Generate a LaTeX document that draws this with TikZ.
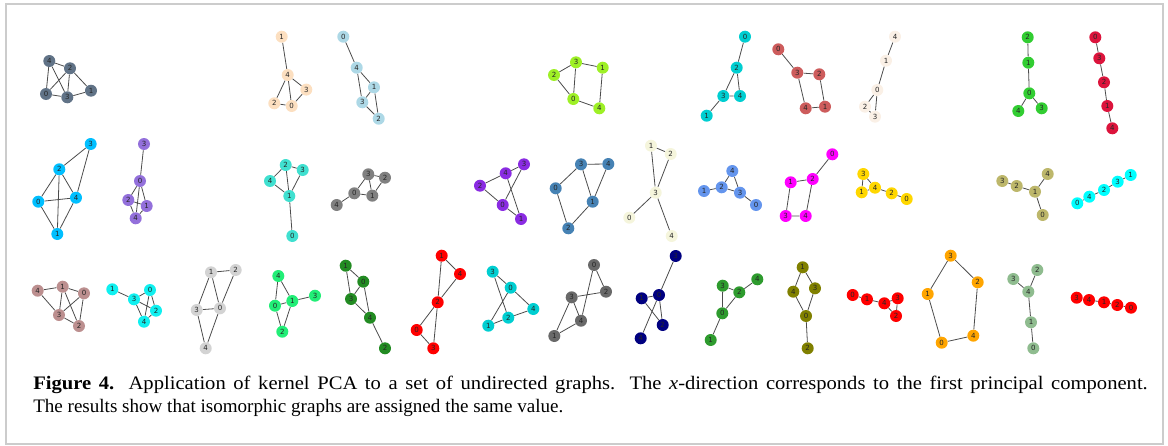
\documentclass[tikz,border=0pt]{standalone}
\usepackage{fontspec}
\setmainfont{Liberation Serif}
\newfontfamily\lbl{DejaVu Sans}
\definecolor{cA}{HTML}{617387}
\definecolor{cB}{HTML}{FCDFC0}
\definecolor{cC}{HTML}{ADD8E6}
\definecolor{cD}{HTML}{9EF026}
\definecolor{cE}{HTML}{00CED1}
\definecolor{cF}{HTML}{CD5C5C}
\definecolor{cG}{HTML}{FAF0E6}
\definecolor{cH}{HTML}{32CD32}
\definecolor{cI}{HTML}{DC143C}
\definecolor{cJ}{HTML}{00BFFF}
\definecolor{cK}{HTML}{9370DB}
\definecolor{cL}{HTML}{40E0D0}
\definecolor{cM}{HTML}{808080}
\definecolor{cN}{HTML}{8A2BE2}
\definecolor{cO}{HTML}{4682B4}
\definecolor{cP}{HTML}{F5F5DC}
\definecolor{cQ}{HTML}{6495ED}
\definecolor{cR}{HTML}{FF00FF}
\definecolor{cS}{HTML}{FFD700}
\definecolor{cT}{HTML}{BDB76B}
\definecolor{cU}{HTML}{00FFFF}
\definecolor{cV}{HTML}{BC8F8F}
\definecolor{cW}{HTML}{10F0F0}
\definecolor{cX}{HTML}{D3D3D3}
\definecolor{cY}{HTML}{22EE77}
\definecolor{cZ}{HTML}{228B22}
\definecolor{cAA}{HTML}{FF0000}
\definecolor{cAB}{HTML}{00CED1}
\definecolor{cAC}{HTML}{696969}
\definecolor{cAD}{HTML}{000080}
\definecolor{cAE}{HTML}{2E9B2E}
\definecolor{cAF}{HTML}{808000}
\definecolor{cAH}{HTML}{FFA500}
\definecolor{cAI}{HTML}{8FBC8F}
\definecolor{framecol}{HTML}{CCCCCC}
\tikzset{
  v/.style={circle, inner sep=0pt, minimum size=9pt, font=\lbl\fontsize{5.3}{5.3}\selectfont, text=black!85},
  e/.style={draw=black!70, line width=0.6pt},
  captext/.style={anchor=base west, inner sep=0pt, font=\fontsize{14.3}{17}\selectfont}
}
\begin{document}
\begin{tikzpicture}[x=0.75pt,y=-0.75pt]
\useasboundingbox (0,0) rectangle (1168,446);
\draw[framecol, line width=1.2pt] (6,4) rectangle (1163,444);
% ---------- Row 1 ----------
% A
\node[v,fill=cA] (a4) at (49.3,61) {4};
\node[v,fill=cA] (a2) at (70,68.3) {2};
\node[v,fill=cA] (a0) at (46,94) {0};
\node[v,fill=cA] (a3) at (67.3,97.3) {3};
\node[v,fill=cA] (a1) at (91,90.7) {1};
\draw[e] (a4)--(a2) (a4)--(a0) (a4)--(a3) (a2)--(a0) (a2)--(a3) (a2)--(a1) (a0)--(a3) (a3)--(a1);
% B
\node[v,fill=cB] (b1) at (281.7,36.7) {1};
\node[v,fill=cB] (b4) at (287.7,75) {4};
\node[v,fill=cB] (b3) at (306.3,89.6) {3};
\node[v,fill=cB] (b2) at (274.3,103.3) {2};
\node[v,fill=cB] (b0) at (291.7,106) {0};
\draw[e] (b1)--(b4) (b4)--(b2) (b4)--(b0) (b4)--(b3) (b3)--(b0) (b2)--(b0);
% C
\node[v,fill=cC] (c0) at (343.3,36.7) {0};
\node[v,fill=cC] (c4) at (356.7,67.7) {4};
\node[v,fill=cC] (c1) at (374,87.3) {1};
\node[v,fill=cC] (c3) at (362.3,102.3) {3};
\node[v,fill=cC] (c2) at (378.7,118.7) {2};
\draw[e] (c0)--(c4) (c4)--(c1) (c4)--(c3) (c1)--(c3) (c1)--(c2) (c3)--(c2);
% D
\node[v,fill=cD] (d3) at (576,62.3) {3};
\node[v,fill=cD] (d2) at (554,75) {2};
\node[v,fill=cD] (d0) at (573.3,99) {0};
\node[v,fill=cD] (d1) at (602.7,67.7) {1};
\node[v,fill=cD] (d4) at (599.3,108.3) {4};
\draw[e] (d3)--(d2) (d3)--(d0) (d2)--(d0) (d3)--(d1) (d1)--(d4) (d0)--(d4);
% E
\node[v,fill=cE] (e0) at (745,36.7) {0};
\node[v,fill=cE] (e2) at (736.7,67.7) {2};
\node[v,fill=cE] (e3) at (723.3,96) {3};
\node[v,fill=cE] (e4) at (740,96) {4};
\node[v,fill=cE] (e1) at (706.7,115.7) {1};
\draw[e] (e0)--(e2) (e2)--(e3) (e2)--(e4) (e3)--(e4) (e3)--(e1);
% F
\node[v,fill=cF] (f0) at (778.3,49.3) {0};
\node[v,fill=cF] (f3) at (797.3,72.7) {3};
\node[v,fill=cF] (f2) at (819.3,74.3) {2};
\node[v,fill=cF] (f4) at (805.7,108.3) {4};
\node[v,fill=cF] (f1) at (825,106.7) {1};
\draw[e] (f0)--(f3) (f3)--(f2) (f3)--(f4) (f2)--(f1) (f4)--(f1);
% G
\node[v,fill=cG] (g4) at (895,36.7) {4};
\node[v,fill=cG] (g1) at (886,60.7) {1};
\node[v,fill=cG] (g0) at (877.3,90) {0};
\node[v,fill=cG] (g2) at (865,106.7) {2};
\node[v,fill=cG] (g3) at (875,116.7) {3};
\draw[e] (g4)--(g1) (g1)--(g0) (g0)--(g2) (g0)--(g3) (g2)--(g3);
% H
\node[v,fill=cH] (h2) at (1027.7,37.3) {2};
\node[v,fill=cH] (h1) at (1028.3,62.7) {1};
\node[v,fill=cH] (h0) at (1029.3,93.3) {0};
\node[v,fill=cH] (h4) at (1018.3,111) {4};
\node[v,fill=cH] (h3) at (1041.7,108.3) {3};
\draw[e] (h2)--(h1) (h1)--(h0) (h0)--(h4) (h0)--(h3);
% I
\node[v,fill=cI] (i0) at (1095.3,37.3) {0};
\node[v,fill=cI] (i3) at (1099.3,58.3) {3};
\node[v,fill=cI] (i2) at (1104,82.3) {2};
\node[v,fill=cI] (i1) at (1107.3,106) {1};
\node[v,fill=cI] (i4) at (1112.3,128.3) {4};
\draw[e] (i0)--(i3) (i3)--(i2) (i2)--(i1) (i1)--(i4);
% ---------- Row 2 ----------
% J
\node[v,fill=cJ] (j3) at (90.7,144) {3};
\node[v,fill=cJ] (j2) at (59.3,169.3) {2};
\node[v,fill=cJ] (j0) at (38.3,201.7) {0};
\node[v,fill=cJ] (j4) at (76,197.7) {4};
\node[v,fill=cJ] (j1) at (57.3,234) {1};
\draw[e] (j3)--(j2) (j3)--(j4) (j2)--(j0) (j2)--(j4) (j2)--(j1) (j0)--(j4) (j0)--(j1) (j4)--(j1);
% K
\node[v,fill=cK] (k3) at (144,144) {3};
\node[v,fill=cK] (k0) at (140,181) {0};
\node[v,fill=cK] (k2) at (128.3,200) {2};
\node[v,fill=cK] (k1) at (146.7,206) {1};
\node[v,fill=cK] (k4) at (135.7,218.3) {4};
\draw[e] (k3)--(k0) (k0)--(k2) (k0)--(k1) (k0)--(k4) (k2)--(k1) (k2)--(k4) (k1)--(k4);
% L
\node[v,fill=cL] (l2) at (285.7,165) {2};
\node[v,fill=cL] (l3) at (302.7,170) {3};
\node[v,fill=cL] (l4) at (270,181) {4};
\node[v,fill=cL] (l1) at (289.3,196) {1};
\node[v,fill=cL] (l0) at (292.3,236) {0};
\draw[e] (l2)--(l3) (l2)--(l4) (l2)--(l1) (l3)--(l1) (l4)--(l1) (l1)--(l0);
% M
\node[v,fill=cM] (m3) at (368.3,174.3) {3};
\node[v,fill=cM] (m2) at (385,177.7) {2};
\node[v,fill=cM] (m0) at (354.3,193.3) {0};
\node[v,fill=cM] (m1) at (372.3,195.7) {1};
\node[v,fill=cM] (m4) at (336.7,205) {4};
\draw[e] (m3)--(m2) (m3)--(m0) (m3)--(m1) (m2)--(m1) (m0)--(m1) (m0)--(m4);
% N
\node[v,fill=cN] (n4) at (505.7,173.3) {4};
\node[v,fill=cN] (n3) at (524,164.3) {3};
\node[v,fill=cN] (n2) at (480,185.7) {2};
\node[v,fill=cN] (n0) at (502.7,205) {0};
\node[v,fill=cN] (n1) at (521,219) {1};
\draw[e] (n4)--(n3) (n4)--(n2) (n4)--(n1) (n3)--(n0) (n2)--(n0) (n0)--(n1);
% O
\node[v,fill=cO] (o3) at (581,164.3) {3};
\node[v,fill=cO] (o0) at (555.7,188.3) {0};
\node[v,fill=cO] (o2) at (568.3,228.3) {2};
\node[v,fill=cO] (o4) at (608.3,164) {4};
\node[v,fill=cO] (o1) at (592.7,201.7) {1};
\draw[e] (o3)--(o0) (o0)--(o2) (o2)--(o1) (o3)--(o4) (o3)--(o1) (o4)--(o1);
% P
\node[v,fill=cP] (p1) at (651,145.7) {1};
\node[v,fill=cP] (p2) at (670.7,154) {2};
\node[v,fill=cP] (p3) at (655.7,192.7) {3};
\node[v,fill=cP] (p0) at (629.3,217.7) {0};
\node[v,fill=cP] (p4) at (671.7,236) {4};
\draw[e] (p1)--(p2) (p1)--(p3) (p2)--(p3) (p3)--(p0) (p3)--(p4);
% Q
\node[v,fill=cQ] (q4) at (732.3,171) {4};
\node[v,fill=cQ] (q1) at (704,191) {1};
\node[v,fill=cQ] (q2) at (721.7,187.3) {2};
\node[v,fill=cQ] (q3) at (740,192.7) {3};
\node[v,fill=cQ] (q0) at (756,205) {0};
\draw[e] (q4)--(q2) (q4)--(q3) (q1)--(q2) (q2)--(q3) (q3)--(q0);
% R
\node[v,fill=cR] (r0) at (832.3,154.3) {0};
\node[v,fill=cR] (r2) at (812.7,179) {2};
\node[v,fill=cR] (r1) at (790.7,182.3) {1};
\node[v,fill=cR] (r3) at (785.7,216) {3};
\node[v,fill=cR] (r4) at (805.7,216) {4};
\draw[e] (r0)--(r2) (r2)--(r1) (r2)--(r4) (r1)--(r3) (r3)--(r4);
% S
\node[v,fill=cS] (s3) at (863.3,174) {3};
\node[v,fill=cS] (s1) at (861.7,192.3) {1};
\node[v,fill=cS] (s4) at (875,187.7) {4};
\node[v,fill=cS] (s2) at (891.7,193.3) {2};
\node[v,fill=cS] (s0) at (906.7,199) {0};
\draw[e] (s3)--(s1) (s3)--(s4) (s1)--(s4) (s4)--(s2) (s2)--(s0);
% T
\node[v,fill=cT] (t3) at (1002.3,181) {3};
\node[v,fill=cT] (t2) at (1016.7,186) {2};
\node[v,fill=cT] (t1) at (1035,191.7) {1};
\node[v,fill=cT] (t4) at (1047.7,174) {4};
\node[v,fill=cT] (t0) at (1042.7,215) {0};
\draw[e] (t3)--(t2) (t2)--(t1) (t1)--(t4) (t1)--(t0);
% U
\node[v,fill=cU] (u1) at (1130.7,175) {1};
\node[v,fill=cU] (u3) at (1117.7,181.7) {3};
\node[v,fill=cU] (u2) at (1104,190) {2};
\node[v,fill=cU] (u4) at (1089.3,196.7) {4};
\node[v,fill=cU] (u0) at (1077.3,203.3) {0};
\draw[e] (u1)--(u3) (u3)--(u2) (u2)--(u4) (u4)--(u0);
% ---------- Row 3 ----------
% V
\node[v,fill=cV] (w4) at (37.7,290.7) {4};
\node[v,fill=cV] (w1) at (62.7,286.7) {1};
\node[v,fill=cV] (w0) at (84,293.3) {0};
\node[v,fill=cV] (w3) at (59,315) {3};
\node[v,fill=cV] (w2) at (79,326) {2};
\draw[e] (w4)--(w1) (w4)--(w3) (w1)--(w0) (w1)--(w3) (w1)--(w2) (w0)--(w3) (w0)--(w2) (w3)--(w2);
% W
\node[v,fill=cW] (x1) at (112.3,289.3) {1};
\node[v,fill=cW] (x3) at (134,299.3) {3};
\node[v,fill=cW] (x0) at (150,290) {0};
\node[v,fill=cW] (x2) at (156,310.7) {2};
\node[v,fill=cW] (x4) at (144,321.7) {4};
\draw[e] (x1)--(x3) (x3)--(x0) (x3)--(x2) (x3)--(x4) (x0)--(x2) (x0)--(x4) (x2)--(x4);
% X
\node[v,fill=cX] (y1) at (211,272.3) {1};
\node[v,fill=cX] (y2) at (235.7,270) {2};
\node[v,fill=cX] (y3) at (196.7,310) {3};
\node[v,fill=cX] (y0) at (220,308.3) {0};
\node[v,fill=cX] (y4) at (205.7,348.3) {4};
\draw[e] (y1)--(y2) (y1)--(y3) (y1)--(y0) (y2)--(y0) (y3)--(y0) (y3)--(y4) (y0)--(y4);
% Y
\node[v,fill=cY] (z4) at (278.3,276) {4};
\node[v,fill=cY] (z0) at (275,305.7) {0};
\node[v,fill=cY] (z1) at (292.3,301) {1};
\node[v,fill=cY] (z2) at (282.3,331.7) {2};
\node[v,fill=cY] (z3) at (315,295.7) {3};
\draw[e] (z4)--(z0) (z4)--(z1) (z0)--(z1) (z0)--(z2) (z1)--(z2) (z1)--(z3);
% Z
\node[v,fill=cZ] (zz1) at (345.7,265.7) {1};
\node[v,fill=cZ] (zz0) at (363.3,281.7) {0};
\node[v,fill=cZ] (zz3) at (351,299) {3};
\node[v,fill=cZ] (zz4) at (370,317.7) {4};
\node[v,fill=cZ] (zz2) at (385,348.3) {2};
\draw[e] (zz1)--(zz0) (zz1)--(zz3) (zz0)--(zz3) (zz0)--(zz4) (zz3)--(zz4) (zz4)--(zz2);
% AA
\node[v,fill=cAA] (aa1) at (441.7,255.7) {1};
\node[v,fill=cAA] (aa4) at (460,274) {4};
\node[v,fill=cAA] (aa2) at (437.7,302.3) {2};
\node[v,fill=cAA] (aa0) at (416.7,330) {0};
\node[v,fill=cAA] (aa3) at (433.3,348.3) {3};
\draw[e] (aa1)--(aa4) (aa1)--(aa2) (aa4)--(aa2) (aa2)--(aa0) (aa2)--(aa3) (aa0)--(aa3);
% AB
\node[v,fill=cAB] (ab3) at (492.7,271.7) {3};
\node[v,fill=cAB] (ab0) at (510.7,287.7) {0};
\node[v,fill=cAB] (ab4) at (533.3,309) {4};
\node[v,fill=cAB] (ab2) at (508.3,317.7) {2};
\node[v,fill=cAB] (ab1) at (488.3,325.7) {1};
\draw[e] (ab3)--(ab0) (ab3)--(ab2) (ab0)--(ab4) (ab0)--(ab1) (ab2)--(ab4) (ab2)--(ab1);
% AC
\node[v,fill=cAC] (ac3) at (571.7,297.3) {3};
\node[v,fill=cAC] (ac4) at (581,320.7) {4};
\node[v,fill=cAC] (ac1) at (554.3,336) {1};
\node[v,fill=cAC] (ac0) at (594,265) {0};
\node[v,fill=cAC] (ac2) at (606,291.7) {2};
\draw[e] (ac3)--(ac4) (ac3)--(ac1) (ac1)--(ac4) (ac3)--(ac2) (ac4)--(ac0) (ac0)--(ac2);
% AD
\node[v,fill=cAD] (ad3) at (675.7,256) {3};
\node[v,fill=cAD] (ad0) at (659,295) {0};
\node[v,fill=cAD] (ad1) at (641.7,298.3) {1};
\node[v,fill=cAD] (ad2) at (662.7,325) {2};
\node[v,fill=cAD] (ad4) at (640.7,338.3) {4};
\draw[e] (ad3)--(ad0) (ad1)--(ad0) (ad0)--(ad2) (ad1)--(ad2) (ad0)--(ad4);
% AE
\node[v,fill=cAE] (ae3) at (722.7,285.7) {3};
\node[v,fill=cAE] (ae2) at (739.3,292.3) {2};
\node[v,fill=cAE] (ae4) at (757.3,279.3) {4};
\node[v,fill=cAE] (ae0) at (722.3,313.3) {0};
\node[v,fill=cAE] (ae1) at (710.7,340) {1};
\draw[e] (ae3)--(ae2) (ae2)--(ae4) (ae3)--(ae0) (ae2)--(ae0) (ae0)--(ae1);
% AF
\node[v,fill=cAF] (af1) at (802.7,267.3) {1};
\node[v,fill=cAF] (af4) at (793.3,291.7) {4};
\node[v,fill=cAF] (af3) at (815,288.3) {3};
\node[v,fill=cAF] (af0) at (806,316) {0};
\node[v,fill=cAF] (af2) at (807.7,348.3) {2};
\draw[e] (af1)--(af4) (af1)--(af3) (af4)--(af0) (af3)--(af0) (af0)--(af2);
% AG
\node[v,fill=cAA] (ag0) at (852.7,295) {0};
\node[v,fill=cAA] (ag1) at (867,299.3) {1};
\node[v,fill=cAA] (ag4) at (884.3,303.3) {4};
\node[v,fill=cAA] (ag3) at (897.7,298.3) {3};
\node[v,fill=cAA] (ag2) at (896,316) {2};
\draw[e] (ag0)--(ag1) (ag1)--(ag4) (ag4)--(ag3) (ag4)--(ag2) (ag3)--(ag2);
% AH
\node[v,fill=cAH] (ah3) at (950.7,255.7) {3};
\node[v,fill=cAH] (ah2) at (977.7,282.3) {2};
\node[v,fill=cAH] (ah1) at (927.7,294) {1};
\node[v,fill=cAH] (ah4) at (973.3,335.7) {4};
\node[v,fill=cAH] (ah0) at (941.7,342.7) {0};
\draw[e] (ah3)--(ah2) (ah3)--(ah1) (ah2)--(ah4) (ah1)--(ah0) (ah0)--(ah4);
% AI
\node[v,fill=cAI] (ai3) at (1013.3,279) {3};
\node[v,fill=cAI] (ai2) at (1037.3,270) {2};
\node[v,fill=cAI] (ai4) at (1028.3,291.7) {4};
\node[v,fill=cAI] (ai1) at (1031,322.3) {1};
\node[v,fill=cAI] (ai0) at (1033.3,348.3) {0};
\draw[e] (ai3)--(ai4) (ai2)--(ai4) (ai4)--(ai1) (ai1)--(ai0);
% AJ
\node[v,fill=cAA] (aj3) at (1076.7,297.7) {3};
\node[v,fill=cAA] (aj4) at (1089,300) {4};
\node[v,fill=cAA] (aj1) at (1104,302.3) {1};
\node[v,fill=cAA] (aj2) at (1117.3,305) {2};
\node[v,fill=cAA] (aj0) at (1131,307.7) {0};
\draw[e] (aj3)--(aj4) (aj4)--(aj1) (aj1)--(aj2) (aj2)--(aj0);
% ---------- caption ----------
\node[captext] (cap1) at (33,389) {\scalebox{1.08}[1]{\makebox[774pt][s]{\textbf{Figure 4.} Application of kernel PCA to a set of undirected graphs. The \textit{x}-direction corresponds to the first principal component.}}};
\node[captext] (cap2) at (33,412.5) {The results show that isomorphic graphs are assigned the same value.};
\end{tikzpicture}
\end{document}
